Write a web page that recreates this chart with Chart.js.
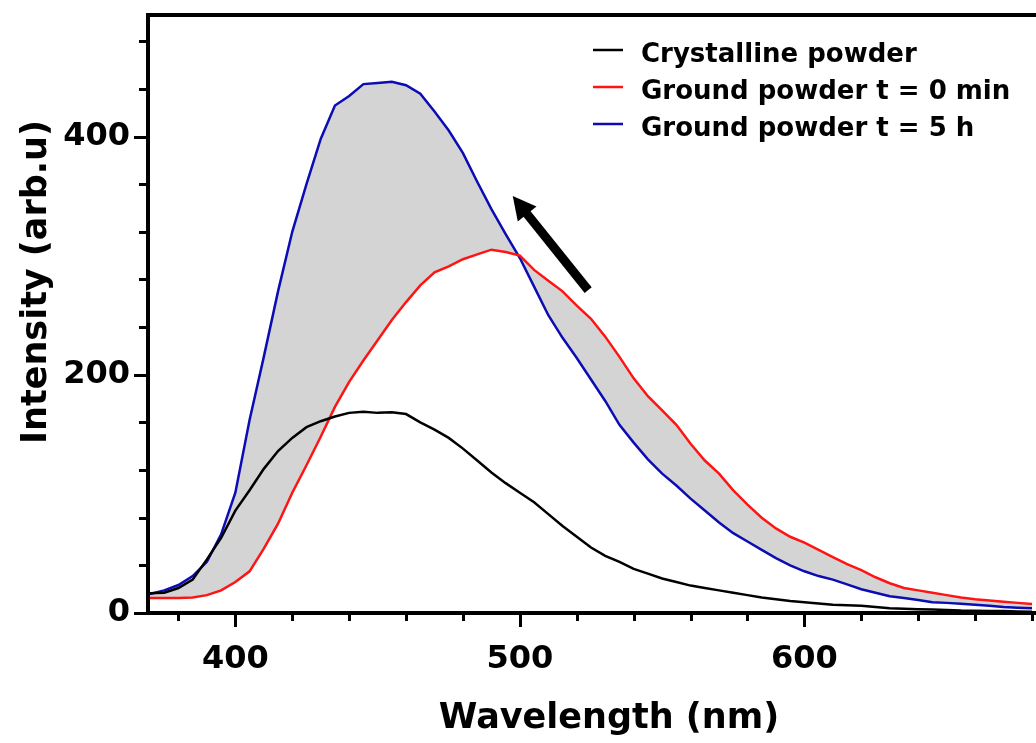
<!DOCTYPE html>
<html>
<head>
<meta charset="utf-8">
<title>Emission spectra</title>
<script src="https://cdn.jsdelivr.net/npm/chart.js@4.4.1/dist/chart.umd.min.js"></script>
<style>
  html, body { margin: 0; padding: 0; background: #ffffff; }
  #spectra { display: block; }
</style>
</head>
<body>
<canvas id="spectra" width="1036" height="743"></canvas>
<script>
// wavelength grid (nm) shared by all spectra
const wavelengths = [
  370, 375, 380, 385, 390, 395, 400, 405, 410, 415, 420, 425, 430, 435, 440, 445,
  450, 455, 460, 465, 470, 475, 480, 485, 490, 495, 500, 505, 510, 515, 520, 525,
  530, 535, 540, 545, 550, 555, 560, 565, 570, 575, 580, 585, 590, 595, 600, 605,
  610, 615, 620, 625, 630, 635, 640, 645, 650, 655, 660, 665, 670, 675, 680
];

const crystalline = [
  16.5, 17, 21, 28, 45, 63, 86, 103, 121, 136, 147, 156, 161, 165, 168, 169,
  168, 168.5, 167, 160, 154, 147, 138, 128, 118, 109, 101, 93, 83, 73, 64, 55,
  48, 43, 37, 33, 29, 26, 23, 21, 19, 17, 15, 13, 11.5, 10, 9, 8,
  7, 6.5, 6, 5, 4, 3.5, 3.2, 3, 2.5, 2, 1.8, 1.7, 1.6, 1.3, 1
];

const groundStart = [
  12.5, 12.5, 12.5, 13, 15, 19, 26, 35, 54, 75, 101, 124, 148, 173, 194, 212,
  229, 246, 261, 275, 286, 291, 297, 301, 305, 303, 300, 288, 279, 270, 258, 247,
  232, 215, 197, 182, 170, 158, 142, 128, 117, 103, 91, 80, 71, 64, 59, 53,
  47, 41, 36, 30, 25, 21, 19, 17, 15, 13, 11.5, 10.5, 9.5, 8.5, 7.6
];

const groundFiveHours = [
  16, 19, 23.5, 31, 43, 66, 101, 162, 215, 270, 320, 360, 398, 426, 434, 444,
  445, 446, 443, 436, 421, 405, 386, 362, 339, 318, 298, 274, 250, 231, 214, 196,
  178, 158, 143, 129, 117, 107, 96, 86, 76, 67, 60, 53, 46, 40, 35, 31,
  28, 24, 20, 17, 14, 12.5, 11, 9, 8.5, 7.8, 7, 6, 5, 4.5, 4
];

const seriesLabels = [
  "Crystalline powder",
  "Ground powder t = 0 min",
  "Ground powder t = 5 h"
];

const xTitle = "Wavelength (nm)";
const yTitle = "Intensity (arb.u)";

const xTicks = [380, 400, 420, 440, 460, 480, 500, 520, 540, 560, 580, 600, 620, 640, 660, 680];
const xLabelled = [400, 500, 600];
const yTicks = [0, 40, 80, 120, 160, 200, 240, 280, 320, 360, 400, 440, 480];
const yLabelled = [0, 200, 400];

// arrow showing the intensity growth with time: [wavelength, intensity]
const arrowTail = [524, 271];
const arrowHead = [497.5, 350];

const FONT = "'DejaVu Sans', sans-serif";
const BAND = "#d4d4d4";

const toPoints = (ys) => wavelengths.map((x, i) => ({ x, y: ys[i] }));

// keep the plot box exactly where the axes are fitted
function fixBox(scale, size) {
  if (scale.isHorizontal()) scale.height = size;
  else scale.width = size;
  scale.paddingTop = 0;
  scale.paddingBottom = 0;
  scale.paddingLeft = 0;
  scale.paddingRight = 0;
}

const axisDecor = {
  id: "axisDecor",
  afterDraw(chart) {
    const { ctx, chartArea } = chart;
    const xs = chart.scales.x;
    const ys = chart.scales.y;
    ctx.save();
    ctx.strokeStyle = "#000";
    ctx.lineWidth = 3;
    ctx.lineCap = "butt";

    yTicks.forEach((v) => {
      const py = Math.round(ys.getPixelForValue(v)) + 0.5;
      const len = yLabelled.includes(v) ? 14 : 9;
      ctx.beginPath();
      ctx.moveTo(chartArea.left, py);
      ctx.lineTo(chartArea.left - len, py);
      ctx.stroke();
    });

    xTicks.forEach((v) => {
      const px = Math.round(xs.getPixelForValue(v)) + 0.5;
      const len = xLabelled.includes(v) ? 14 : 8;
      ctx.beginPath();
      ctx.moveTo(px, chartArea.bottom);
      ctx.lineTo(px, chartArea.bottom + len);
      ctx.stroke();
    });

    // top frame line
    ctx.lineWidth = 4;
    ctx.beginPath();
    ctx.moveTo(chartArea.left - 2, chartArea.top);
    ctx.lineTo(chartArea.right, chartArea.top);
    ctx.stroke();

    // axis titles
    ctx.fillStyle = "#000";
    ctx.font = "bold 35px " + FONT;
    ctx.textAlign = "center";
    ctx.textBaseline = "middle";
    ctx.fillText(xTitle, 609, 719);
    ctx.translate(37, 282);
    ctx.rotate(-Math.PI / 2);
    ctx.fillText(yTitle, 0, 0);
    ctx.restore();
  }
};

const trendArrow = {
  id: "trendArrow",
  afterDatasetsDraw(chart) {
    const { ctx } = chart;
    const xs = chart.scales.x;
    const ys = chart.scales.y;
    const x0 = xs.getPixelForValue(arrowTail[0]);
    const y0 = ys.getPixelForValue(arrowTail[1]);
    const x1 = xs.getPixelForValue(arrowHead[0]);
    const y1 = ys.getPixelForValue(arrowHead[1]);
    const ang = Math.atan2(y1 - y0, x1 - x0);
    const headLen = 23;
    const headHalf = 12;
    const bx = x1 - headLen * Math.cos(ang);
    const by = y1 - headLen * Math.sin(ang);
    const nx = -Math.sin(ang);
    const ny = Math.cos(ang);

    ctx.save();
    ctx.strokeStyle = "#000";
    ctx.fillStyle = "#000";
    ctx.lineWidth = 9;
    ctx.lineCap = "butt";
    ctx.beginPath();
    ctx.moveTo(x0, y0);
    ctx.lineTo(bx + 2 * Math.cos(ang), by + 2 * Math.sin(ang));
    ctx.stroke();

    ctx.beginPath();
    ctx.moveTo(x1, y1);
    ctx.lineTo(bx + nx * headHalf, by + ny * headHalf);
    ctx.lineTo(bx - nx * headHalf, by - ny * headHalf);
    ctx.closePath();
    ctx.fill();
    ctx.restore();
  }
};

const insetLegend = {
  id: "insetLegend",
  afterDraw(chart) {
    const { ctx } = chart;
    ctx.save();
    ctx.font = "bold 26px " + FONT;
    ctx.textAlign = "left";
    ctx.textBaseline = "alphabetic";
    chart.data.datasets.forEach((ds, i) => {
      const base = 62 + i * 37;
      ctx.strokeStyle = ds.borderColor;
      ctx.lineWidth = 2.5;
      ctx.beginPath();
      ctx.moveTo(593, base - 12);
      ctx.lineTo(623, base - 12);
      ctx.stroke();
      ctx.fillStyle = "#000";
      ctx.fillText(ds.label, 641, base);
    });
    ctx.restore();
  }
};

new Chart(document.getElementById("spectra"), {
  type: "line",
  data: {
    datasets: [
      {
        label: seriesLabels[0],
        data: toPoints(crystalline),
        borderColor: "#000000",
        borderWidth: 2.5,
        pointRadius: 0,
        fill: false
      },
      {
        label: seriesLabels[1],
        data: toPoints(groundStart),
        borderColor: "#ff1414",
        borderWidth: 2.5,
        pointRadius: 0,
        fill: false
      },
      {
        label: seriesLabels[2],
        data: toPoints(groundFiveHours),
        borderColor: "#0c0cb4",
        backgroundColor: BAND,
        borderWidth: 2.5,
        pointRadius: 0,
        fill: { target: 1, above: BAND, below: BAND }
      }
    ]
  },
  options: {
    responsive: false,
    animation: false,
    events: [],
    layout: {
      autoPadding: false,
      padding: { top: 15, right: 0, bottom: 0, left: 0 }
    },
    plugins: {
      legend: { display: false },
      tooltip: { enabled: false }
    },
    scales: {
      x: {
        type: "linear",
        min: 369.3,
        max: 681.4,
        afterBuildTicks(scale) {
          scale.ticks = xTicks.map((value) => ({ value }));
        },
        afterFit(scale) {
          fixBox(scale, 130);
        },
        grid: { drawOnChartArea: false, drawTicks: false },
        border: { display: true, color: "#000", width: 4 },
        ticks: {
          autoSkip: false,
          maxRotation: 0,
          padding: 27,
          color: "#000",
          font: { family: FONT, size: 32, weight: "bold" },
          callback: (v) => (xLabelled.includes(v) ? String(v) : "")
        },
        title: { display: false }
      },
      y: {
        type: "linear",
        min: 0,
        max: 502,
        afterBuildTicks(scale) {
          scale.ticks = yTicks.map((value) => ({ value }));
        },
        afterFit(scale) {
          fixBox(scale, 148);
        },
        grid: { drawOnChartArea: false, drawTicks: false },
        border: { display: true, color: "#000", width: 4 },
        ticks: {
          autoSkip: false,
          padding: 18,
          color: "#000",
          font: { family: FONT, size: 32, weight: "bold" },
          callback: (v) => (yLabelled.includes(v) ? String(v) : "")
        },
        title: { display: false }
      }
    }
  },
  plugins: [trendArrow, axisDecor, insetLegend]
});
</script>
</body>
</html>
